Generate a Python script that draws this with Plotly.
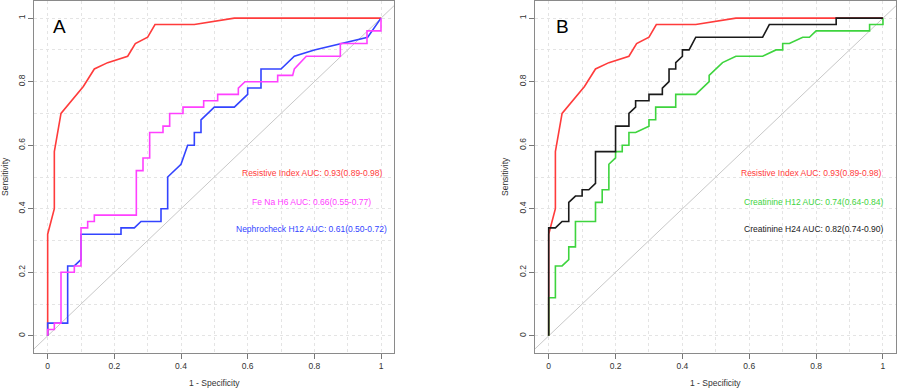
import plotly.graph_objects as go

# ---------------- data (1 - specificity, sensitivity) ----------------
# Panel A / B shared: Resistive Index
ri_x = [0, 0, 0.02, 0.02, 0.04, 0.107, 0.14, 0.18, 0.24, 0.263, 0.30, 0.322, 0.44, 0.56, 1.0]
ri_y = [0, 0.32, 0.40, 0.58, 0.70, 0.785, 0.84, 0.86, 0.88, 0.92, 0.94, 0.98, 0.98, 1.0, 1.0]

# Panel A: Fe Na H6
fena_x = [0, 0, 0.02, 0.02, 0.04, 0.04, 0.08, 0.08, 0.10, 0.10, 0.12, 0.12, 0.14, 0.14,
          0.266, 0.266, 0.286, 0.286, 0.306, 0.306, 0.346, 0.346, 0.366, 0.366, 0.406, 0.406,
          0.468, 0.468, 0.51, 0.51, 0.572, 0.572, 0.592, 0.69, 0.69, 0.735, 0.74, 0.776,
          0.878, 0.878, 0.958, 0.958, 1.0, 1.0]
fena_y = [0, 0.02, 0.02, 0.04, 0.04, 0.20, 0.20, 0.22, 0.22, 0.34, 0.34, 0.36, 0.36, 0.38,
          0.38, 0.52, 0.52, 0.56, 0.56, 0.64, 0.64, 0.66, 0.66, 0.70, 0.70, 0.72,
          0.72, 0.74, 0.74, 0.76, 0.76, 0.78, 0.80, 0.80, 0.82, 0.82, 0.84, 0.88,
          0.88, 0.92, 0.92, 0.96, 0.96, 1.0]

# Panel A: Nephrocheck H12
neph_x = [0, 0, 0.06, 0.06, 0.08, 0.10, 0.10, 0.22, 0.22, 0.26, 0.28, 0.34, 0.34, 0.36,
          0.36, 0.40, 0.42, 0.44, 0.44, 0.46, 0.46, 0.50, 0.56, 0.60, 0.60, 0.64, 0.64,
          0.70, 0.74, 0.80, 0.96, 1.0]
neph_y = [0, 0.04, 0.04, 0.22, 0.22, 0.24, 0.32, 0.32, 0.34, 0.34, 0.36, 0.36, 0.40, 0.40,
          0.50, 0.54, 0.60, 0.60, 0.64, 0.64, 0.68, 0.72, 0.72, 0.76, 0.78, 0.78, 0.84,
          0.84, 0.88, 0.90, 0.94, 1.0]

# Panel B: Creatinine H12
cr12_x = [0, 0, 0.02, 0.02, 0.04, 0.06, 0.06, 0.08, 0.08, 0.14, 0.14, 0.16, 0.16, 0.18,
          0.18, 0.20, 0.20, 0.22, 0.22, 0.24, 0.24, 0.26, 0.30, 0.30, 0.32, 0.32, 0.38,
          0.38, 0.44, 0.48, 0.48, 0.52, 0.56, 0.64, 0.68, 0.70, 0.70, 0.72, 0.76, 0.78,
          0.80, 0.96, 0.96, 1.0, 1.0]
cr12_y = [0, 0.12, 0.12, 0.22, 0.22, 0.24, 0.28, 0.28, 0.36, 0.36, 0.42, 0.42, 0.46, 0.46,
          0.54, 0.56, 0.58, 0.58, 0.60, 0.60, 0.64, 0.64, 0.66, 0.68, 0.68, 0.72, 0.72,
          0.76, 0.76, 0.80, 0.82, 0.86, 0.88, 0.88, 0.90, 0.90, 0.92, 0.92, 0.94, 0.94,
          0.96, 0.96, 0.98, 0.98, 1.0]

# Panel B: Creatinine H24
cr24_x = [0, 0, 0.02, 0.04, 0.06, 0.06, 0.08, 0.10, 0.10, 0.12, 0.14, 0.14, 0.20, 0.20,
          0.24, 0.24, 0.26, 0.26, 0.30, 0.30, 0.34, 0.34, 0.36, 0.36, 0.38, 0.38, 0.40,
          0.40, 0.42, 0.44, 0.64, 0.66, 0.86, 0.86, 1.0]
cr24_y = [0, 0.34, 0.34, 0.36, 0.36, 0.42, 0.44, 0.44, 0.46, 0.46, 0.48, 0.58, 0.58, 0.66,
          0.66, 0.70, 0.72, 0.74, 0.74, 0.76, 0.76, 0.78, 0.80, 0.84, 0.84, 0.86, 0.88,
          0.90, 0.90, 0.94, 0.94, 0.98, 0.98, 1.0, 1.0]

diag = [-0.1, 1.1]

tick_vals = [0, 0.2, 0.4, 0.6, 0.8, 1.0]
tick_text = ["0", "0.2", "0.4", "0.6", "0.8", "1"]

labels_a = ["Resistive Index AUC: 0.93(0.89-0.98)",
            "Fe Na H6 AUC: 0.66(0.55-0.77)",
            "Nephrocheck H12 AUC: 0.61(0.50-0.72)"]
labels_b = ["Resistive Index AUC: 0.93(0.89-0.98)",
            "Creatinine H12 AUC: 0.74(0.64-0.84)",
            "Creatinine H24 AUC: 0.82(0.74-0.90)"]

# ---------------- styling ----------------
RED = "#ff3b3b"
MAG = "#ff40ff"
BLUE = "#3344ff"
GREEN = "#3ed43e"
BLACK = "#1a1a1a"
FONT = "Liberation Sans, Arial, sans-serif"
GRID = "#e4e4e4"
W, H = 898, 389

fig = go.Figure()

def line(x, y, color, xa, ya, width=1.6):
    fig.add_trace(go.Scatter(x=x, y=y, mode="lines", xaxis=xa, yaxis=ya,
                             line=dict(color=color, width=width),
                             hoverinfo="skip", showlegend=False))

# Panel A
line(diag, diag, "#c8c8c8", "x", "y", 1)
line(ri_x, ri_y, RED, "x", "y")
line(neph_x, neph_y, BLUE, "x", "y")
line(fena_x, fena_y, MAG, "x", "y")
# Panel B
line(diag, diag, "#c8c8c8", "x2", "y2", 1)
line(ri_x, ri_y, RED, "x2", "y2")
line(cr12_x, cr12_y, GREEN, "x2", "y2")
line(cr24_x, cr24_y, BLACK, "x2", "y2")

def xax(domain, anchor):
    return dict(domain=domain, anchor=anchor, range=[-0.041, 1.039], automargin=False,
                tickmode="array", tickvals=tick_vals, ticktext=tick_text,
                ticks="outside", ticklen=5, tickcolor="#777", tickwidth=1,
                showline=True, linecolor="#8a8a8a", linewidth=1, mirror=True,
                showgrid=True, gridcolor=GRID, griddash="dot", gridwidth=1,
                minor=dict(dtick=0.1, tick0=0, showgrid=True, gridcolor=GRID,
                           griddash="dot", ticks=""),
                zeroline=False, fixedrange=True,
                tickfont=dict(size=8.5, color="#333", family=FONT))

def yax(domain, anchor):
    d = xax(domain, anchor)
    d["range"] = [-0.054, 1.054]
    d["tickangle"] = -90
    return d

dxA = [34 / W, 394 / W]
dxB = [535 / W, 896 / W]
dy = [1 - 353 / H, 1 - 1 / H]

fig.update_layout(
    width=W, height=H, margin=dict(l=0, r=0, t=0, b=0, autoexpand=False),
    paper_bgcolor="white", plot_bgcolor="white",
    font=dict(family=FONT, size=8.5, color="#333"),
    xaxis=xax(dxA, "y"), yaxis=yax(dy, "x"),
    xaxis2=xax(dxB, "y2"), yaxis2=yax(dy, "x2"),
)

anns = []
# panel letters
anns.append(dict(x=0.034, y=0.973, xref="x", yref="y", text="A", showarrow=False,
                 font=dict(size=19, color="black", family=FONT)))
anns.append(dict(x=0.04, y=0.973, xref="x2", yref="y2", text="B", showarrow=False,
                 font=dict(size=19, color="black", family=FONT)))
# AUC labels
ya = [0.514, 0.421, 0.335]
for t, c, yy in zip(labels_a, [RED, MAG, BLUE], ya):
    anns.append(dict(x=0.792, y=yy, xref="x", yref="y", text=t, showarrow=False,
                     font=dict(size=8.5, color=c, family=FONT)))
for t, c, yy, xx in zip(labels_b, [RED, GREEN, BLACK], ya, [0.786, 0.793, 0.793]):
    anns.append(dict(x=xx, y=yy, xref="x2", yref="y2", text=t, showarrow=False,
                     font=dict(size=8.5, color=c, family=FONT)))
# axis titles
for cx in [214.4 / W, 715.5 / W]:
    anns.append(dict(x=cx, y=1 - 383 / H, xref="paper", yref="paper",
                     xanchor="center", yanchor="middle",
                     text="1 - Specificity", showarrow=False,
                     font=dict(size=8.5, color="#333", family=FONT)))
for cx in [5 / W, 505 / W]:
    anns.append(dict(x=cx, y=1 - 177 / H, xref="paper", yref="paper",
                     xanchor="center", yanchor="middle",
                     text="Sensitivity", textangle=-90, showarrow=False,
                     font=dict(size=8.5, color="#333", family=FONT)))
fig.update_layout(annotations=anns)

fig.write_html("out.html", config={"displayModeBar": False},
               post_script="document.body.style.margin='0px';document.body.style.overflow='hidden';")
